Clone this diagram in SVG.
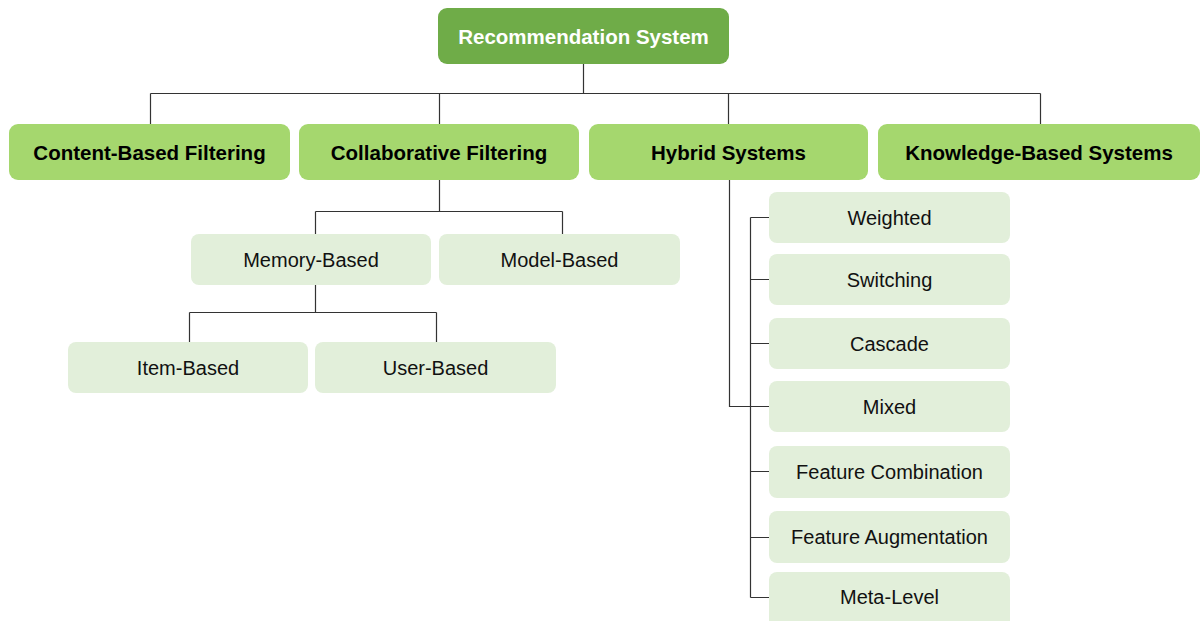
<svg xmlns="http://www.w3.org/2000/svg" width="1201" height="621" viewBox="0 0 1201 621">
<style>
.root{fill:#6fac48}
.l1{fill:#a5d76e}
.l2{fill:#e2efda}
.t{font-family:"Liberation Sans",Arial,sans-serif;text-anchor:middle}
.tw{fill:#ffffff;font-weight:bold;font-size:20.5px}
.tb{fill:#000000;font-weight:bold;font-size:20.5px}
.tr{fill:#111111;font-size:20px}
.c{fill:none;stroke:#333333;stroke-width:1.2}
</style>
<rect width="1201" height="621" fill="#ffffff"/>
<g id="connectors">
<path class="c" d="M583.5 64V93.5M150.5 93.5H1040.5M150.5 93.5V124M439.5 93.5V124M728.5 93.5V124M1040.5 93.5V124"/>
<path class="c" d="M439.5 180V211.5M315.5 211.5H562.5M315.5 211.5V234M562.5 211.5V234"/>
<path class="c" d="M315.5 285V312.5M189.5 312.5H436.5M189.5 312.5V342M436.5 312.5V342"/>
<path class="c" d="M729.5 180V406.5H769"/>
<path class="c" d="M750.5 217.5V597.5M750.5 217.5H769M750.5 279.5H769M750.5 343.5H769M750.5 471.5H769M750.5 537.5H769M750.5 597.5H769"/>
</g>
<g id="n-root"><rect class="root" x="438" y="8" width="291" height="56" rx="9"/><text class="t tw" x="583.5" y="43.5">Recommendation System</text></g>
<g id="n-content"><rect class="l1" x="9" y="124" width="281" height="56" rx="9"/><text class="t tb" x="149.5" y="159.5">Content-Based Filtering</text></g>
<g id="n-collab"><rect class="l1" x="299" y="124" width="280" height="56" rx="9"/><text class="t tb" x="439" y="159.5">Collaborative Filtering</text></g>
<g id="n-hybrid"><rect class="l1" x="589" y="124" width="279" height="56" rx="9"/><text class="t tb" x="728.5" y="159.5">Hybrid Systems</text></g>
<g id="n-knowledge"><rect class="l1" x="878" y="124" width="322" height="56" rx="9"/><text class="t tb" x="1039" y="159.5">Knowledge-Based Systems</text></g>
<g id="n-memory"><rect class="l2" x="191" y="234" width="240" height="51" rx="8"/><text class="t tr" x="311" y="266.5">Memory-Based</text></g>
<g id="n-model"><rect class="l2" x="439" y="234" width="241" height="51" rx="8"/><text class="t tr" x="559.5" y="266.5">Model-Based</text></g>
<g id="n-item"><rect class="l2" x="68" y="342" width="240" height="51" rx="8"/><text class="t tr" x="188" y="374.5">Item-Based</text></g>
<g id="n-user"><rect class="l2" x="315" y="342" width="241" height="51" rx="8"/><text class="t tr" x="435.5" y="374.5">User-Based</text></g>
<g id="n-weighted"><rect class="l2" x="769" y="192" width="241" height="51" rx="8"/><text class="t tr" x="889.5" y="224.5">Weighted</text></g>
<g id="n-switching"><rect class="l2" x="769" y="254" width="241" height="51" rx="8"/><text class="t tr" x="889.5" y="286.5">Switching</text></g>
<g id="n-cascade"><rect class="l2" x="769" y="318" width="241" height="51" rx="8"/><text class="t tr" x="889.5" y="350.5">Cascade</text></g>
<g id="n-mixed"><rect class="l2" x="769" y="381" width="241" height="51" rx="8"/><text class="t tr" x="889.5" y="413.5">Mixed</text></g>
<g id="n-featcomb"><rect class="l2" x="769" y="446" width="241" height="52" rx="8"/><text class="t tr" x="889.5" y="478.5">Feature Combination</text></g>
<g id="n-feataug"><rect class="l2" x="769" y="511" width="241" height="52" rx="8"/><text class="t tr" x="889.5" y="543.5">Feature Augmentation</text></g>
<g id="n-meta"><rect class="l2" x="769" y="572" width="241" height="56" rx="8"/><text class="t tr" x="889.5" y="604">Meta-Level</text></g>
</svg>
